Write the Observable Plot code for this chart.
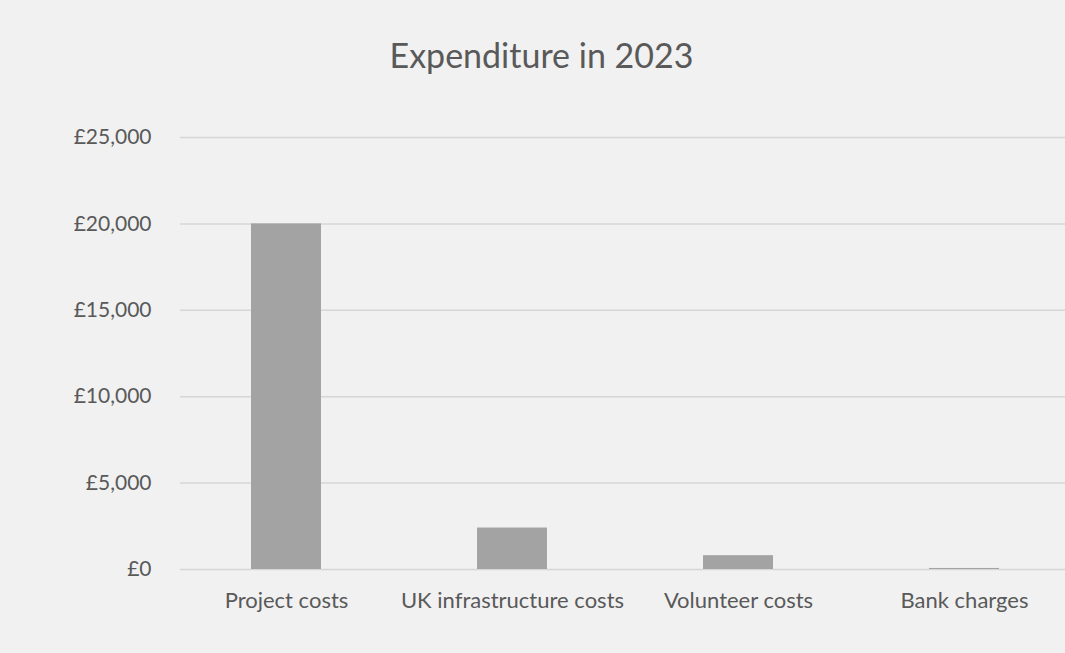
<!DOCTYPE html>
<html>
<head>
<meta charset="utf-8">
<script src="https://cdn.jsdelivr.net/npm/d3@7"></script>
<script src="https://cdn.jsdelivr.net/npm/@observablehq/plot@0.6"></script>
<style>
  html, body { margin: 0; padding: 0; background: #f1f1f1; }
  #wrap { width: 1065px; height: 653px; background: #f1f1f1; font-family: Lato, "Open Sans", sans-serif; }
  #title { height: 100px; box-sizing: border-box; padding-top: 37px; text-align: center; font-size: 34px; color: #595959; line-height: 36px; padding-left: 18px; }
</style>
</head>
<body>
<div id="wrap">
  <div id="title">Expenditure in 2023</div>
  <div id="chart"></div>
</div>
<script>
const categories = ["Project costs", "UK infrastructure costs", "Volunteer costs", "Bank charges"];
const amounts = [20000, 2400, 800, 60];
const yTicks = [0, 5000, 10000, 15000, 20000, 25000];

const data = categories.map((c, i) => ({category: c, amount: amounts[i]}));
const fmt = d => "£" + d3.format(",")(d);

const plot = Plot.plot({
  width: 1065,
  height: 553,
  marginLeft: 180,
  marginRight: 0,
  marginTop: 37,
  marginBottom: 84,
  style: {background: "transparent", fontFamily: "Lato, 'Open Sans', sans-serif", fontSize: "21px", color: "#595959"},
  x: {domain: categories, paddingInner: 0.69, paddingOuter: 0.295, align: 0.515, label: null},
  y: {domain: [0, 25000], label: null},
  marks: [
    Plot.gridY(yTicks, {stroke: "#d6d6d6", strokeOpacity: 1, strokeWidth: 1.5}),
    Plot.barY(data, {x: "category", y: "amount", fill: "#a3a3a3"}),
    Plot.axisY(yTicks, {tickSize: 0, tickPadding: 29, tickFormat: fmt, fontSize: 21, fill: "#595959"}),
    Plot.axisX({tickSize: 0, tickPadding: 23, fontSize: 22, fill: "#595959"})
  ]
});
document.getElementById("chart").appendChild(plot);
</script>
</body>
</html>
